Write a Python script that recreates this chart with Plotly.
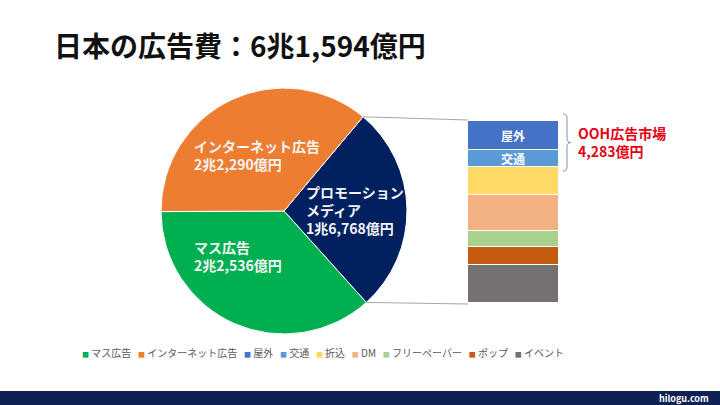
import math
import plotly.graph_objects as go

# ---------------- data ----------------
title_text = "日本の広告費：6兆1,594億円"

pie_labels = ["プロモーション<br>メディア", "マス広告", "インターネット広告"]
pie_values = [16768, 22536, 22290]
pie_colors = ["#002060", "#00B050", "#ED7D31"]

promo_labels = ["屋外", "交通", "折込", "DM", "フリーペーパー", "ポップ", "イベント"]
promo_values = [2715, 1568, 2525, 3290, 1539, 1658, 3473]
promo_colors = ["#4472C4", "#5B9BD5", "#FFD966", "#F4B183", "#A9D18E", "#C55A11", "#767171"]
promo_text_shown = ["屋外", "交通"]

ooh_label = "OOH広告市場"
ooh_members = ["屋外", "交通"]

legend_labels = ["マス広告", "インターネット広告"] + promo_labels
legend_colors = ["#00B050", "#ED7D31"] + promo_colors

source_text = "hilogu.com"

# ---------------- helpers ----------------
W, H = 720, 405
FONT = "Noto Sans CJK JP"


def fx(px):
    return px / W


def fy(py):
    return 1 - py / H


def oku(v):
    cho, rest = divmod(v, 10000)
    return (f"{cho}兆" if cho else "") + f"{rest:,}億円"


fig = go.Figure()

# ---------------- pie ----------------
cx, cy, R = 284, 211, 123
rotation = 40
fig.add_trace(go.Pie(
    labels=pie_labels, values=pie_values, sort=False, direction="clockwise",
    rotation=rotation, marker=dict(colors=pie_colors, line=dict(color="white", width=1)),
    textinfo="none", hoverinfo="label+value", showlegend=False,
    domain=dict(x=[fx(cx - R), fx(cx + R)], y=[fy(cy + R), fy(cy - R)]),
))

# ---------------- stacked bar ----------------
for lab, val, col in reversed(list(zip(promo_labels, promo_values, promo_colors))):
    fig.add_trace(go.Bar(
        x=["promo"], y=[val], name=lab,
        marker=dict(color=col, line=dict(color="white", width=1)),
        text=[lab if lab in promo_text_shown else ""], textposition="inside",
        insidetextanchor="middle", textangle=0, constraintext="none",
        textfont=dict(family=FONT, size=12, color="white", weight="bold"),
        showlegend=False, xaxis="x", yaxis="y",
    ))

bar_x0, bar_x1, bar_top, bar_bot = 468, 559, 121, 303
fig.update_layout(
    barmode="stack", bargap=0,
    xaxis=dict(domain=[fx(bar_x0), fx(bar_x1)], range=[-0.5, 0.5], visible=False, fixedrange=True),
    yaxis=dict(domain=[fy(bar_bot), fy(bar_top)], range=[0, sum(promo_values)], visible=False, fixedrange=True),
)

# ---------------- shapes ----------------
total = sum(pie_values)
a0 = math.radians(rotation)
a1 = math.radians(rotation + 360 * pie_values[0] / total)
p_top = (cx + R * math.sin(a0), cy - R * math.cos(a0))
p_bot = (cx + R * math.sin(a1), cy - R * math.cos(a1))

shapes = [
    dict(type="line", xref="paper", yref="paper", x0=fx(p_top[0]), y0=fy(p_top[1]),
         x1=fx(bar_x0), y1=fy(bar_top - 1), line=dict(color="#A6A6A6", width=1)),
    dict(type="line", xref="paper", yref="paper", x0=fx(p_bot[0]), y0=fy(p_bot[1]),
         x1=fx(bar_x0), y1=fy(bar_bot + 1), line=dict(color="#A6A6A6", width=1)),
]

# bracket
bx, bt, bb = 567, 114, 171
bm = (bt + bb) / 2
pts = [("M", 563, bt), ("Q", bx, bt, bx, bt + 4), ("L", bx, bm - 4), ("Q", bx, bm, bx + 4, bm),
       ("Q", bx, bm, bx, bm + 4), ("L", bx, bb - 4), ("Q", bx, bb, 563, bb)]
path = ""
for p in pts:
    cmd = p[0]
    coords = p[1:]
    pairs = [f"{fx(coords[i]):.5f},{fy(coords[i + 1]):.5f}" for i in range(0, len(coords), 2)]
    path += cmd + " " + " ".join(pairs) + " "
shapes.append(dict(type="path", xref="paper", yref="paper", path=path.strip(),
                   line=dict(color="#7F96B2", width=1)))

# footer
shapes.append(dict(type="rect", xref="paper", yref="paper", x0=0, x1=1, y0=0, y1=fy(391),
                   fillcolor="#0D2152", line=dict(width=0), layer="below"))

# ---------------- annotations ----------------
ann = []
ann.append(dict(text=title_text, x=fx(52), y=fy(45), xref="paper", yref="paper",
                xanchor="left", yanchor="middle", showarrow=False,
                font=dict(family=FONT, size=28, color="#111111", weight="bold")))

label_pos = {"インターネット広告": (192, 155), "マス広告": (192, 256), "プロモーション<br>メディア": (304, 210)}
for lab, val in zip(pie_labels, pie_values):
    x, y = label_pos[lab]
    ann.append(dict(text=f"{lab}<br>{oku(val)}", x=fx(x), y=fy(y), xref="paper", yref="paper",
                    xanchor="left", yanchor="middle", align="left", showarrow=False,
                    font=dict(family=FONT, size=14, color="#F4F4F4", weight="bold")))

ooh_value = sum(v for l, v in zip(promo_labels, promo_values) if l in ooh_members)
ann.append(dict(text=f"{ooh_label}<br>{ooh_value:,}億円", x=fx(576), y=fy(142), xref="paper", yref="paper",
                xanchor="left", yanchor="middle", align="left", showarrow=False,
                font=dict(family=FONT, size=14, color="#E60012", weight="bold")))

sp = "\u00a0"
legend_html = (sp * 3).join(
    f"<span style='color:{c};font-size:7px'>■</span>{sp}{l}" for l, c in zip(legend_labels, legend_colors)
)
ann.append(dict(text=legend_html, x=fx(323), y=fy(352), xref="paper", yref="paper",
                xanchor="center", yanchor="middle", showarrow=False,
                font=dict(family=FONT, size=10, color="#595959")))

ann.append(dict(text=source_text, x=fx(711), y=fy(398), xref="paper", yref="paper",
                xanchor="right", yanchor="middle", showarrow=False,
                font=dict(family=FONT, size=9, color="white", weight="bold")))

fig.update_layout(
    width=W, height=H, margin=dict(l=0, r=0, t=0, b=0),
    paper_bgcolor="white", plot_bgcolor="white",
    shapes=shapes, annotations=ann, showlegend=False,
    font=dict(family=FONT),
)

fig.write_html("out.html", config={"displayModeBar": False},
               post_script="document.body.style.margin='0';document.body.style.overflow='hidden';")
